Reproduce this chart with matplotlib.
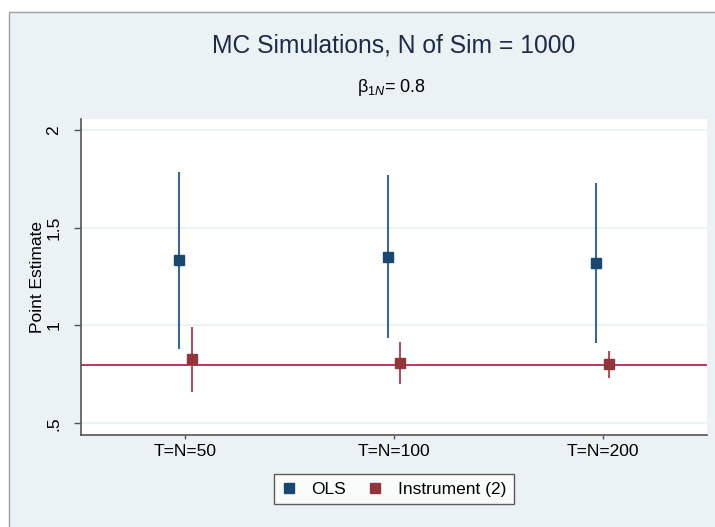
import matplotlib.pyplot as plt
from matplotlib.patches import Rectangle
from matplotlib.lines import Line2D

plt.rcParams["font.family"] = ["Liberation Sans", "DejaVu Sans"]
plt.rcParams["mathtext.fontset"] = "custom"
plt.rcParams["mathtext.rm"] = "Liberation Sans"
plt.rcParams["mathtext.it"] = "Liberation Sans:italic"

# Data
groups = ["T=N=50", "T=N=100", "T=N=200"]
ols_est = [1.337, 1.352, 1.321]
ols_lo = [0.878, 0.934, 0.908]
ols_hi = [1.786, 1.770, 1.730]
iv_est = [0.827, 0.808, 0.804]
iv_lo = [0.658, 0.700, 0.730]
iv_hi = [0.990, 0.918, 0.872]
true_beta = 0.8

navy = "#1a476f"
maroon = "#90353b"
bg = "#eaf2f3"

fig = plt.figure(figsize=(7.15, 5.27), dpi=100, facecolor="white")
# outer graph region
fig.patches.append(Rectangle((9 / 715, -0.01), 1.1, 1.01 - 12 / 527, transform=fig.transFigure,
                             facecolor=bg, edgecolor="#a0a0a0", linewidth=1.0, zorder=-10))

ax = fig.add_axes([81 / 715, 1 - 435 / 527, (707 - 81) / 715, (435 - 119) / 527])
ax.set_facecolor("white")

x = [1, 2, 3]
off = 0.03
xo = [v - off for v in x]
xi = [v + off for v in x]

ax.axhline(true_beta, color="#c8325a", linewidth=1.4, zorder=1)

ax.errorbar(xo, ols_est,
            yerr=[[e - l for e, l in zip(ols_est, ols_lo)], [h - e for e, h in zip(ols_est, ols_hi)]],
            fmt="s", color=navy, ecolor="#3a6690", elinewidth=1.5, markersize=7.5,
            capsize=0, zorder=3)
ax.errorbar(xi, iv_est,
            yerr=[[e - l for e, l in zip(iv_est, iv_lo)], [h - e for e, h in zip(iv_est, iv_hi)]],
            fmt="s", color=maroon, ecolor="#a85560", elinewidth=1.5, markersize=7.5,
            capsize=0, zorder=3)

ax.set_xlim(0.5, 3.5)
ax.set_ylim(0.44, 2.056)
ax.set_xticks(x)
ax.set_xticklabels(groups, fontsize=12.5)
ax.set_yticks([0.5, 1, 1.5, 2])
ax.set_yticklabels([".5", "1", "1.5", "2"], fontsize=12.5, rotation=90, va="center")
ax.grid(axis="y", color=bg, linewidth=1.2)
ax.set_axisbelow(True)
ax.tick_params(axis="x", direction="out", length=3, color="#555555", width=1)
ax.tick_params(axis="y", direction="out", length=5, color="#555555", width=1, pad=9)
for s in ["top", "right"]:
    ax.spines[s].set_visible(False)
for s in ["left", "bottom"]:
    ax.spines[s].set_color("#555555")
    ax.spines[s].set_linewidth(1.2)
ax.set_ylabel("Point Estimate", fontsize=12.5, labelpad=1)

fig.text(0.551, 1 - 45 / 527, "MC Simulations, N of Sim = 1000", ha="center", va="center",
         fontsize=17.7, color="#1e2a4a")
fig.text(0.547, 1 - 88 / 527, r"$\mathrm{β}_{\mathit{1N}}$= 0.8", ha="center", va="center",
         fontsize=13, color="black")

handles = [Line2D([], [], linestyle="none", marker="s", markersize=7, color=navy),
           Line2D([], [], linestyle="none", marker="s", markersize=7, color=maroon)]
leg = ax.legend(handles, ["OLS", "Instrument (2)"], loc="upper center",
                bbox_to_anchor=(0.5, -0.095), ncol=2, frameon=True,
                fontsize=12.5, handlelength=0.8, handletextpad=0.9, columnspacing=1.3,
                fancybox=False, borderpad=0.45)
leg.get_frame().set_edgecolor("#333333")
leg.get_frame().set_linewidth(1.0)

fig.savefig("out.png", dpi=100, facecolor=fig.get_facecolor())
